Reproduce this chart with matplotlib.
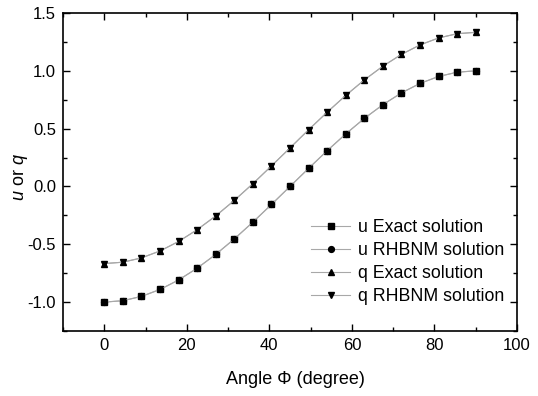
import matplotlib
matplotlib.use("Agg")
import matplotlib.pyplot as plt
from matplotlib.ticker import MultipleLocator

plt.rcParams['font.family'] = ['Liberation Sans', 'DejaVu Sans']
plt.rcParams['axes.unicode_minus'] = False
plt.rcParams['mathtext.fontset'] = 'custom'
plt.rcParams['mathtext.it'] = 'Liberation Sans:italic'
plt.rcParams['mathtext.rm'] = 'Liberation Sans'

angle = [0, 4.5, 9, 13.5, 18, 22.5, 27, 31.5, 36, 40.5, 45, 49.5, 54, 58.5, 63, 67.5, 72, 76.5, 81, 85.5, 90]
u_exact = [-1.0, -0.988, -0.951, -0.891, -0.809, -0.707, -0.588, -0.454, -0.309, -0.156, 0.0,
           0.156, 0.309, 0.454, 0.588, 0.707, 0.809, 0.891, 0.951, 0.988, 1.0]
u_rhbnm = [-1.0, -0.988, -0.951, -0.891, -0.809, -0.707, -0.588, -0.454, -0.309, -0.156, 0.0,
           0.156, 0.309, 0.454, 0.588, 0.707, 0.809, 0.891, 0.951, 0.988, 1.0]
q_exact = [-0.667, -0.655, -0.618, -0.558, -0.476, -0.374, -0.255, -0.121, 0.024, 0.177, 0.333,
           0.490, 0.642, 0.787, 0.921, 1.040, 1.142, 1.224, 1.284, 1.321, 1.333]
q_rhbnm = [-0.667, -0.655, -0.618, -0.558, -0.476, -0.374, -0.255, -0.121, 0.024, 0.177, 0.333,
           0.490, 0.642, 0.787, 0.921, 1.040, 1.142, 1.224, 1.284, 1.321, 1.333]

fig = plt.figure(figsize=(5.38, 3.96), dpi=100)
ax = fig.add_axes([63/538, 1 - 331/396, (517-63)/538, (331-13)/396])

line_kw = dict(color='#a8a8a8', lw=0.8, mfc='black', mec='black', ms=4.2)
ax.plot(angle, u_exact, marker='s', label='u Exact solution', **line_kw)
ax.plot(angle, u_rhbnm, marker='o', label='u RHBNM solution', **line_kw)
ax.plot(angle, q_exact, marker='^', label='q Exact solution', **line_kw)
ax.plot(angle, q_rhbnm, marker='v', label='q RHBNM solution', **line_kw)

ax.set_xlim(-10, 100)
ax.set_ylim(-1.25, 1.5)
ax.xaxis.set_major_locator(MultipleLocator(20))
ax.xaxis.set_minor_locator(MultipleLocator(10))
ax.yaxis.set_major_locator(MultipleLocator(0.5))
ax.yaxis.set_minor_locator(MultipleLocator(0.25))
ax.tick_params(which='both', direction='in', top=True, right=True, labelsize=12, width=1)
ax.tick_params(which='major', length=5, pad=5)
ax.tick_params(which='minor', length=3)
for s in ax.spines.values():
    s.set_linewidth(1.2)

fig.text(295/538, 1 - 380/396, 'Angle Φ (degree)', fontsize=13, ha='center', va='center')
fig.text(21/538, 1 - 177/396, r'$\it{u}$ or $\it{q}$', fontsize=13, ha='center', va='center',
         rotation=90)

ax.legend(loc='lower right', bbox_to_anchor=(1.0, 0.043), frameon=False, fontsize=12.8,
          handlelength=2.2, handletextpad=0.45, labelspacing=0.33, borderaxespad=0.3,
          markerscale=1.0)

fig.savefig('out.png', dpi=100)
